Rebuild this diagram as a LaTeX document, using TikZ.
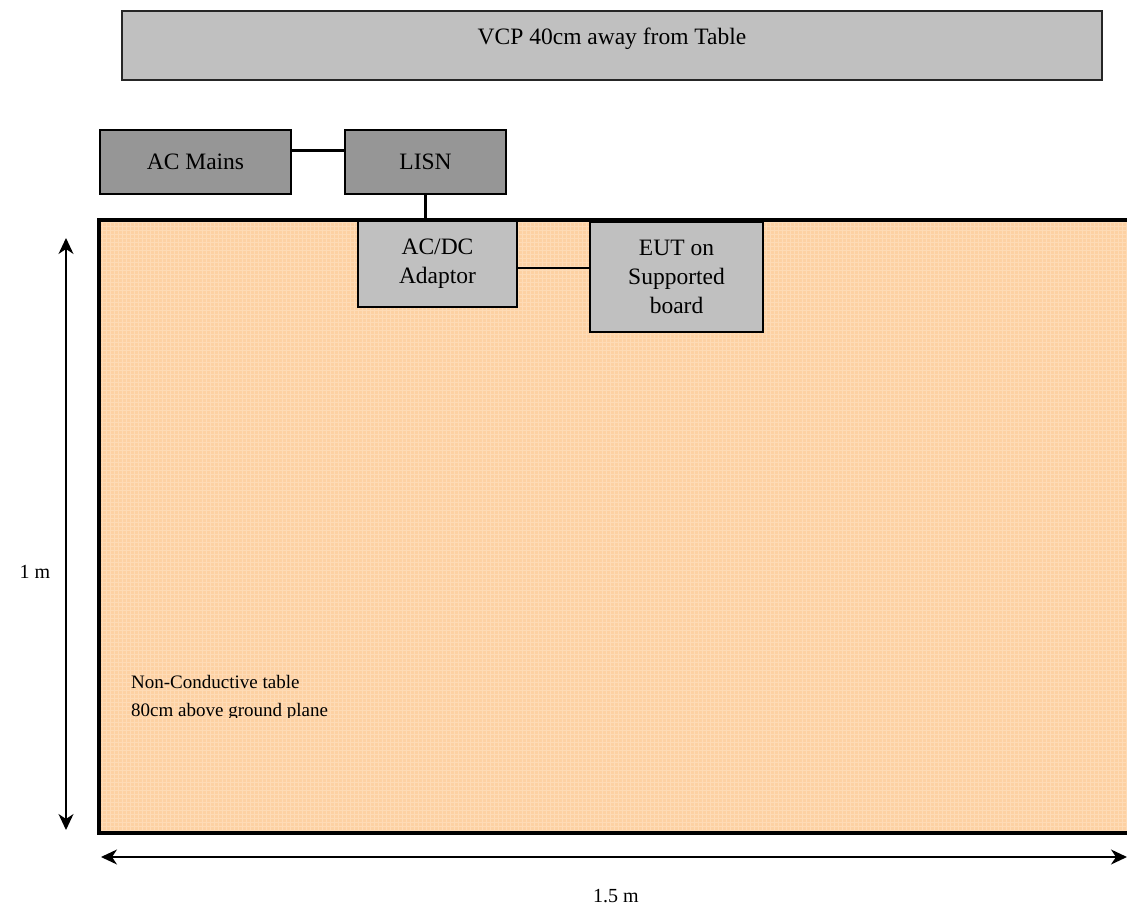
\documentclass[tikz,border=0pt]{standalone}
\usepackage{fontspec}
\setmainfont{Liberation Serif}
\usetikzlibrary{arrows.meta,calc}
\definecolor{darkbox}{RGB}{150,150,150}
\definecolor{lightbox}{RGB}{192,192,192}
\definecolor{peach}{RGB}{253,209,163}
\definecolor{peachgrid}{RGB}{255,226,196}
\tikzset{
  boxstyle/.style={draw=black, line width=1.9pt, rectangle, inner sep=0pt, align=center,
    font=\fontsize{23.5}{29}\selectfont},
  mainsbox/.style={boxstyle, fill=darkbox},
  unitbox/.style={boxstyle, fill=lightbox},
  wire/.style={line width=2.8pt},
  dimline/.style={line width=1.5pt, {Stealth[length=16pt,width=15pt,inset=5pt]}-{Stealth[length=16pt,width=15pt,inset=5pt]}},
  dimtext/.style={font=\fontsize{20}{24}\selectfont},
  tabletext/.style={font=\fontsize{19}{24}\selectfont, inner sep=0pt, anchor=base west},
}
\begin{document}
\begin{tikzpicture}[x=1pt, y=-1pt]
\useasboundingbox (0,0) rectangle (1127,909);

% wall-side vertical coupling plane
\node[unitbox, draw=black!85, line width=1.3pt, minimum width=980pt, minimum height=69pt] (vcp) at (612,45.5) {};
\node[font=\fontsize{23.5}{29}\selectfont] (vcptext) at (612,39) {VCP 40cm away from Table};

% table top
\node[rectangle, draw=black, line width=3.6pt, fill=peach, inner sep=0pt, anchor=north west,
  minimum width=1040pt, minimum height=613pt,
  path picture={\draw[peachgrid, line width=0.8pt, opacity=0.6, step=4pt]
    (path picture bounding box.south west) grid (path picture bounding box.north east);}]
  (table) at (97,218) {};

% supply chain
\node[mainsbox, minimum width=191pt, minimum height=64pt] (mains) at (195.5,162) {AC Mains};
\node[mainsbox, minimum width=161pt, minimum height=64pt] (lisn) at (425.5,162) {LISN};
\node[unitbox, minimum width=159pt, minimum height=86pt] (adaptor) at (437.5,264) {AC/DC\\Adaptor};
\node[unitbox, minimum width=173pt, minimum height=110pt] (eut) at (676.5,277) {EUT on\\Supported\\board};

\coordinate (mainsout) at ($(mains.north east)!0.33!(mains.south east)$);
\draw[wire] (mainsout) -- (mainsout -| lisn.west);
\draw[wire] (lisn.south) -- (lisn.south |- table.north);
\coordinate (dcout) at ($(adaptor.north east)!0.547!(adaptor.south east)$);
\draw[line width=1.8pt] (dcout) -- (dcout -| eut.west);

% table caption, bottom line cut short by the frame
\node[tabletext] (cap1) at (131,688) {Non-Conductive table};
\begin{scope}
  \clip (120,690) rectangle (400,717);
  \node[tabletext] (cap2) at (131,716) {80cm above ground plane};
\end{scope}

% dimensions
\coordinate (vtop) at (66,238);
\coordinate (vbot) at (66,830);
\draw[dimline] (vtop) -- (vbot);
\node[dimtext] (height) at (35,572) {1 m};
\coordinate (hleft) at (101,857);
\coordinate (hright) at (1127,857);
\draw[dimline] (hleft) -- (hright);
\node[dimtext] (width) at (616,896) {1.5 m};
\end{tikzpicture}
\end{document}
